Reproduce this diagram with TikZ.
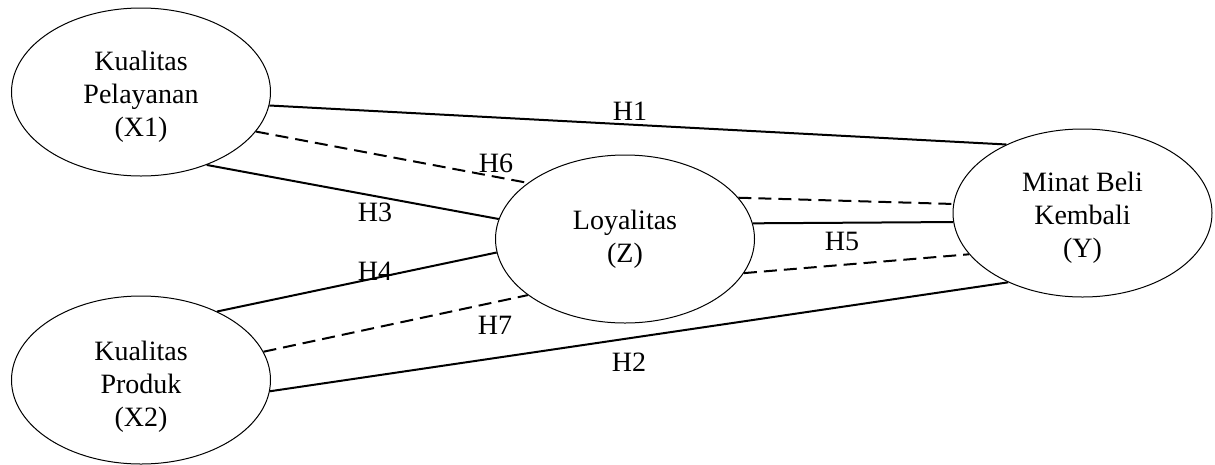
\documentclass[tikz,border=0pt]{standalone}
\usepackage{fontspec}
\setmainfont{Liberation Serif}
\usetikzlibrary{shapes.geometric}
\begin{document}
\begin{tikzpicture}[x=1pt,y=-1pt,
  var/.style={draw,ellipse,line width=1pt,minimum width=259pt,minimum height=168pt,inner sep=0pt,align=center,font=\fontsize{28}{33}\selectfont},
  lab/.style={inner sep=0pt,font=\fontsize{28}{33}\selectfont},
  solidln/.style={line width=2pt},
  dashln/.style={line width=2pt,dash pattern=on 13pt off 7pt}]
\useasboundingbox (0,0) rectangle (1215,464);
\node[var] (x1) at (141,92) {\rule{0pt}{28pt}Kualitas\\Pelayanan\\(X1)};
\node[var] (x2) at (141,380) {\rule{0pt}{32pt}Kualitas\\Produk\\(X2)};
\node[var] (z) at (625,239) {Loyalitas\\(Z)};
\node[var] (y) at (1082.5,213) {\rule{0pt}{28pt}Minat Beli\\Kembali\\(Y)};
\draw[solidln] (x1.-6.5) -- (y.138);
\draw[dashln] (x1.-19.8) -- (z.150.3);
\draw[solidln] (x1.-48.7) -- (z.171.8);
\draw[solidln] (x2.42.5) -- (z.186.6);
\draw[dashln] (x2.13.4) -- (z.210.1);
\draw[solidln] (x2.-5.2) -- (y.223.2);
\draw[dashln] (z.20) -- (y.176.5);
\draw[solidln] (z.7) -- (y.184.4);
\draw[dashln] (z.-16.1) -- (y.200.5);
\node[lab] (h1) at (630,111) {H1};
\node[lab] (h6) at (496,163) {H6};
\node[lab] (h3) at (375,212) {H3};
\node[lab] (h4) at (375,271) {H4};
\node[lab] (h7) at (495,325) {H7};
\node[lab] (h2) at (629,362) {H2};
\node[lab] (h5) at (842,241) {H5};
\end{tikzpicture}
\end{document}
